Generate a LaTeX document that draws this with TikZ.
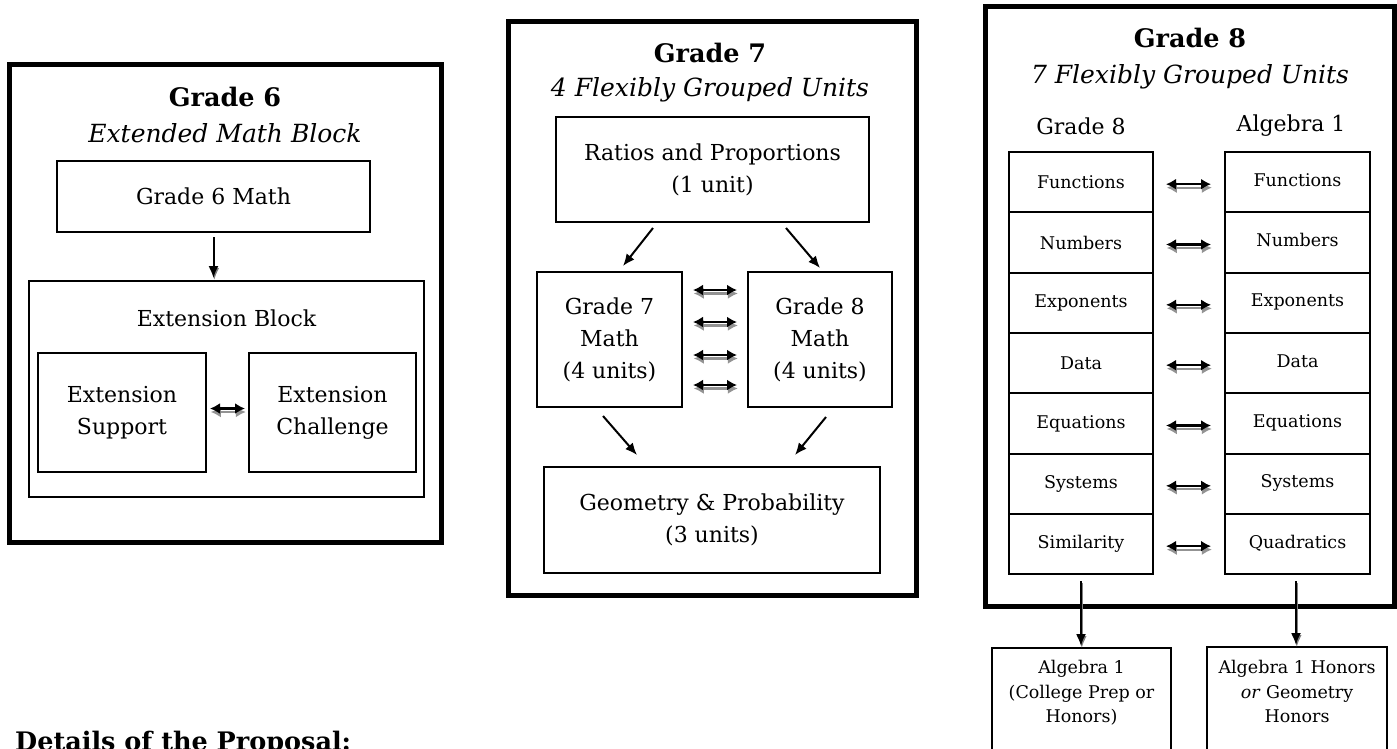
\documentclass[tikz,border=0pt]{standalone}
\usepackage{fontspec}
\setmainfont{DejaVu Serif}
\usetikzlibrary{arrows.meta}
\newcommand\fmain{\fontsize{22}{32}\selectfont}
\newcommand\ftitle{\fontsize{25.5}{28}\selectfont\bfseries}
\newcommand\fsub{\fontsize{25}{28}\selectfont\itshape}
\newcommand\fcell{\fontsize{17.5}{20}\selectfont}
\newcommand\fbot{\fontsize{17.5}{24.5}\selectfont}
\newcommand\twoline[2]{\raisebox{6pt}{\begin{tabular}{@{}c@{}}#1\\#2\end{tabular}}}
\tikzset{
  outer/.style={draw, line width=5pt, minimum width=#1, inner sep=0pt},
  ibox/.style={draw, line width=2pt, inner sep=0pt, align=center, font=\fmain},
  cell/.style={draw, line width=2pt, inner sep=0pt, minimum width=144pt, minimum height=60.33pt, align=center, font=\fcell},
  txt/.style={inner sep=0pt, align=center},
  arr/.style={-{Latex[length=12pt,width=10pt]}, line width=2pt},
  arrsh/.style={arr, draw=gray, transform canvas={shift={(0.8pt,-2pt)}}},
  dbl/.style={{Latex[length=10pt,width=11pt]}-{Latex[length=10pt,width=11pt]}, line width=2.2pt},
  dblsh/.style={dbl, draw=gray!85, transform canvas={shift={(0.8pt,-3.5pt)}}}
}
\newcommand\dblarrow[2]{\draw[dblsh] #1 -- #2; \draw[dbl] #1 -- #2;}
\newcommand\downarr[2]{\draw[arrsh] #1 -- #2; \draw[arr] #1 -- #2;}
\begin{document}
\begin{tikzpicture}[x=1pt,y=-1pt]
\useasboundingbox (0,0) rectangle (1397,748);
% ---------- Grade 6 ----------
\node[outer=432pt, minimum height=478pt] (g6) at (225,303) {};
\node[txt, font=\ftitle] (g6t) at (225,97) {Grade 6};
\node[txt, font=\fsub] (g6s) at (225,133) {Extended Math Block};
\node[ibox, minimum width=313pt, minimum height=71pt] (g6m) at (213.5,196.5) {Grade 6 Math};
\node[ibox, minimum width=395pt, minimum height=216pt] (ext) at (226.5,389) {};
\node[txt, font=\fmain] (extl) at (226.5,318) {Extension Block};
\node[ibox, minimum width=168pt, minimum height=119pt] (exs) at (122,412.5) {\twoline{Extension}{Support}};
\node[ibox, minimum width=167pt, minimum height=119pt] (exc) at (332.5,412.5) {\twoline{Extension}{Challenge}};
\coordinate (g6a) at (g6m.south |- ext.north);
\downarr{([yshift=-4pt]g6m.south)}{([yshift=2pt]g6a)}
\dblarrow{([shift={(3,-4)}]exs.east)}{([shift={(-3,-4)}]exc.west)}
% ---------- Grade 7 ----------
\node[outer=408pt, minimum height=574pt] (g7) at (712,308) {};
\node[txt, font=\ftitle] (g7t) at (710,53) {Grade 7};
\node[txt, font=\fsub] (g7s) at (710,90) {4 Flexibly Grouped Units};
\node[ibox, minimum width=313pt, minimum height=105pt] (rat) at (712.5,169.5) {Ratios and Proportions\\(1 unit)};
\node[ibox, minimum width=145pt, minimum height=135pt] (g7m) at (609.5,339.5) {Grade 7\\Math\\(4 units)};
\node[ibox, minimum width=144pt, minimum height=135pt] (g8m) at (820,339.5) {Grade 8\\Math\\(4 units)};
\node[ibox, minimum width=336pt, minimum height=106pt] (geo) at (712,520) {Geometry \& Probability\\(3 units)};
\draw[arr] ([shift={(-59.5,5)}]rat.south) -- ([shift={(13.5,-5)}]g7m.north);
\draw[arr] ([shift={(73.5,5)}]rat.south) -- ([shift={(0,-3)}]g8m.north);
\draw[arr] ([shift={(-6.5,8)}]g7m.south) -- ([shift={(-75,-11)}]geo.north);
\draw[arr] ([shift={(6,9)}]g8m.south) -- ([shift={(83,-11)}]geo.north);
\foreach \dy in {-49.5,-17.5,15.5,45.5}{
  \dblarrow{([shift={(10,\dy)}]g7m.east)}{([shift={(-10,\dy)}]g8m.west)}
}
% ---------- Grade 8 ----------
\node[outer=409pt, minimum height=600pt] (g8) at (1189.5,306) {};
\node[txt, font=\ftitle] (g8t) at (1190,38) {Grade 8};
\node[txt, font=\fsub] (g8s) at (1190,77) {7 Flexibly Grouped Units};
\node[txt, font=\fmain] (hl) at (1081,126) {Grade 8};
\node[txt, font=\fmain] (hr) at (1291,126) {Algebra 1};
\foreach \a/\b [count=\i from 0] in {Functions/Functions,Numbers/Numbers,Exponents/Exponents,Data/Data,Equations/Equations,Systems/Systems,Similarity/Quadratics}{
  \node[cell] (l\i) at (1081,{152+60.33*(\i+0.5)}) {\a};
  \node[cell, minimum width=145pt] (r\i) at (1297.5,{152+60.33*(\i+0.5)}) {\raisebox{5pt}{\b}};
  \dblarrow{([shift={(12,2)}]l\i.east)}{([shift={(-13,2)}]r\i.west)}
}
\node[draw, line width=2pt, minimum width=179pt, minimum height=122pt, inner sep=0pt] (bl) at (1081.5,709) {};
\node[draw, line width=2pt, minimum width=180pt, minimum height=122pt, inner sep=0pt] (br) at (1297,708) {};
\node[txt, font=\fbot, anchor=north] (blt) at (1081.5,660) {Algebra 1\\(College Prep or\\Honors)};
\node[txt, font=\fbot, anchor=north] (brt) at (1297,660) {Algebra 1 Honors\\\textit{or} Geometry\\Honors};
\coordinate (bla) at (l6.south |- bl.north);
\coordinate (bra) at ([xshift=-1.5pt]r6.south |- br.north);
\downarr{([yshift=-6pt]l6.south)}{([yshift=1pt]bla)}
\downarr{([shift={(-1.5,6)}]r6.south)}{([yshift=1pt]bra)}
% ---------- footer ----------
\node[inner sep=0pt, anchor=base west, font=\fontsize{25.5}{30}\selectfont\bfseries] (det) at (15,750) {Details of the Proposal:};
\end{tikzpicture}
\end{document}
